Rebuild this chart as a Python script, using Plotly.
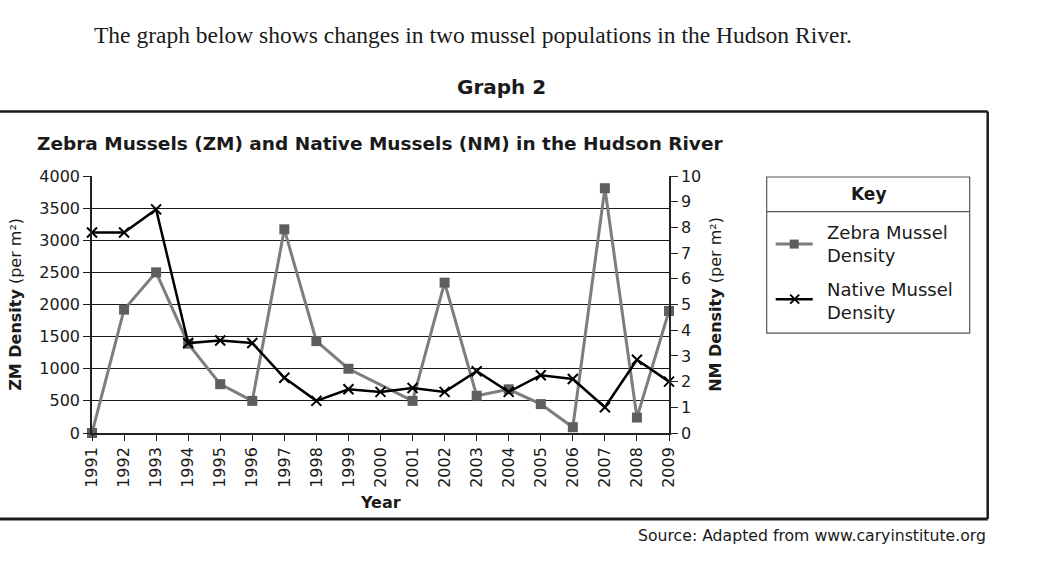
import plotly.graph_objects as go

years = list(range(1991, 2010))
zebra_density = [0, 1920, 2500, 1390, 760, 500, 3170, 1430, 1000, None,
                 500, 2340, 580, 680, 450, 90, 3810, 240, 1900]
native_density = [7.8, 7.8, 8.7, 3.5, 3.6, 3.5, 2.15, 1.25, 1.7, 1.6,
                  1.75, 1.6, 2.4, 1.6, 2.25, 2.1, 1.0, 2.85, 2.0]
zm_ticks = list(range(0, 4001, 500))
nm_ticks = list(range(0, 11))

W, H = 1057, 563
L, R, T, B = 92.3, 669.3, 176.0, 432.7
FONT = "DejaVu Sans"


def px(x):
    return (x - L) / (R - L)


def py(y):
    return (B - y) / (B - T)


ZCOL_LINE = "#7d7d7d"
ZCOL_MARK = "#5e5e5e"

fig = go.Figure()
fig.add_trace(go.Scatter(
    x=years, y=zebra_density, mode="lines+markers", connectgaps=True,
    line=dict(color=ZCOL_LINE, width=3),
    marker=dict(symbol="square", size=10, color=ZCOL_MARK),
    name="Zebra Mussel Density", showlegend=False, cliponaxis=False,
))
fig.add_trace(go.Scatter(
    x=years, y=native_density, mode="lines+markers", yaxis="y2",
    line=dict(color="black", width=2.5),
    marker=dict(symbol="x-thin", size=10, color="black",
                line=dict(color="black", width=2)),
    name="Native Mussel Density", showlegend=False, cliponaxis=False,
))

fig.update_layout(
    width=W, height=H,
    margin=dict(l=L, r=W - R, t=T, b=H - B, pad=0),
    paper_bgcolor="white", plot_bgcolor="white",
    font=dict(family=FONT, size=16, color="#1a1a1a"),
    xaxis=dict(
        range=[1991, 2009], tickmode="array", tickvals=years,
        ticktext=[str(y) for y in years], tickangle=-90,
        showgrid=False, zeroline=False, showline=True, linecolor="#222",
        linewidth=1.5, ticks="outside", ticklen=6, tickcolor="#222",
        tickfont=dict(family=FONT, size=16, color="#1a1a1a"),
    ),
    yaxis=dict(
        range=[0, 4000], tickmode="array", tickvals=zm_ticks,
        ticktext=[str(v) for v in zm_ticks],
        showgrid=True, gridcolor="#1a1a1a", gridwidth=1.2, zeroline=False,
        showline=True, linecolor="#222", linewidth=1.5,
        ticks="outside", ticklen=7, tickcolor="#222",
        tickfont=dict(family=FONT, size=16, color="#1a1a1a"),
    ),
    yaxis2=dict(
        range=[0, 10], tickmode="array", tickvals=nm_ticks,
        ticktext=[str(v) for v in nm_ticks],
        overlaying="y", side="right", showgrid=False, zeroline=False,
        showline=True, linecolor="#222", linewidth=1.5,
        ticks="outside", ticklen=7, tickcolor="#222",
        tickfont=dict(family=FONT, size=16, color="#1a1a1a"),
    ),
)

ann = []


def text(x, y, s, size, family=FONT, xanchor="center", angle=0, align="center"):
    ann.append(dict(
        x=px(x), y=py(y), xref="paper", yref="paper", text=s, showarrow=False,
        xanchor=xanchor, yanchor="middle", textangle=angle, align=align,
        font=dict(family=family, size=size, color="#1a1a1a"),
    ))


text(473, 35, "The graph below shows changes in two mussel populations in the Hudson River.",
     23.5, family="Liberation Serif")
text(502, 87, "<b>Graph 2</b>", 20)
text(380, 144, "<b>Zebra Mussels (ZM) and Native Mussels (NM) in the Hudson River</b>", 18.5)
text(15, 304, "<b>ZM Density</b> (per m²)", 16, angle=-90)
text(715, 304, "<b>NM Density</b> (per m²)", 16, angle=-90)
text(381, 502, "<b>Year</b>", 16)
text(988, 535, "Source: Adapted from www.caryinstitute.org", 15.7, xanchor="right")

# Legend (Key)
text(869, 194, "<b>Key</b>", 17)
text(825, 244, "Zebra Mussel<br>Density", 18, xanchor="left", align="left")
text(825, 301, "Native Mussel<br>Density", 18, xanchor="left", align="left")
fig.update_layout(annotations=ann)

shapes = []


def line(x0, y0, x1, y1, color="#1a1a1a", width=1.5):
    shapes.append(dict(type="line", xref="paper", yref="paper",
                       x0=px(x0), y0=py(y0), x1=px(x1), y1=py(y1),
                       line=dict(color=color, width=width)))


# outer frame
line(-5, 111.5, 988, 111.5, width=2.5)
line(988, 111.5, 988, 518.5, width=2.5)
line(-5, 518.5, 988, 518.5, width=3)

# key box
shapes.append(dict(type="rect", xref="paper", yref="paper",
                   x0=px(767), y0=py(333), x1=px(970), y1=py(177),
                   line=dict(color="#555", width=1.2)))
line(767, 211.5, 970, 211.5, color="#555", width=1.2)

# key samples
line(776, 244, 813, 244, color=ZCOL_LINE, width=3)
shapes.append(dict(type="rect", xref="paper", yref="paper",
                   x0=px(790), y0=py(248.5), x1=px(799), y1=py(239.5),
                   fillcolor=ZCOL_MARK, line=dict(width=0)))
line(776, 299, 813, 299, color="black", width=2.5)
line(790.5, 294.5, 799.5, 303.5, color="black", width=2)
line(790.5, 303.5, 799.5, 294.5, color="black", width=2)
fig.update_layout(shapes=shapes)

fig.write_html("out.html", config={"displayModeBar": False},
               post_script="document.body.style.margin='0';document.body.style.overflow='hidden';")
